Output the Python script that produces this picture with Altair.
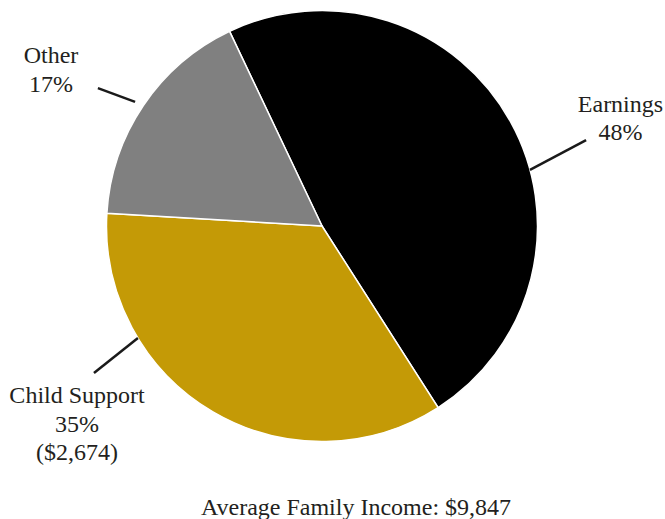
import math
import altair as alt
import pandas as pd

# ---- data ----
categories = ["Earnings", "Child Support", "Other"]
shares = [48, 35, 17]
label_texts = ["Earnings\n48%", "Child Support\n35%\n($2,674)", "Other\n17%"]
caption = "Average Family Income: $9,847"

# ---- style / layout ----
colors = ["#000000", "#C49A06", "#808080"]
W, H = 665, 519
CX, CY, R = 322, 226, 215.5
START_DEG = -25.4
FONT = "Liberation Serif"
TEXT_COLOR = "#231f20"
# label anchor (angle deg clockwise from 12 o'clock, distance from centre) of first baseline
label_polar = [(69.05, 319.6), (234.1, 302.4), (301.0, 316.1)]
# leader lines: (inner angle, inner r), (outer angle, outer r)
leader_polar = [((74.9, 215.4), (72.0, 277.7)),
                ((238.7, 215.4), (237.2, 271.3)),
                ((303.6, 224.4), (301.6, 263.1))]
caption_pos = (356, 515)


def polar(a_deg, r):
    a = math.radians(a_deg)
    return CX + r * math.sin(a), CY - r * math.cos(a)


pie_df = pd.DataFrame({"category": categories, "share": shares, "idx": range(len(categories))})

lab_rows = []
for txt, (a, r) in zip(label_texts, label_polar):
    x, y = polar(a, r)
    lab_rows.append({"label": txt, "lx": x, "ly": y})
lab_df = pd.DataFrame(lab_rows)

line_rows = []
for (a1, r1), (a2, r2) in leader_polar:
    x1, y1 = polar(a1, r1)
    x2, y2 = polar(a2, r2)
    line_rows.append({"x1": x1, "y1": y1, "x2": x2, "y2": y2})
line_df = pd.DataFrame(line_rows)

cap_df = pd.DataFrame({"t": [caption], "cx": [caption_pos[0]], "cy": [caption_pos[1]]})

start = math.radians(START_DEG)
pie = alt.Chart(pie_df).mark_arc(outerRadius=R, stroke="white", strokeWidth=1.5).encode(
    theta=alt.Theta("share:Q", stack=True, scale=alt.Scale(range=[start, start + 2 * math.pi])),
    color=alt.Color("category:N", scale=alt.Scale(domain=categories, range=colors), legend=None),
    order=alt.Order("idx:Q"),
    x=alt.value(CX),
    y=alt.value(CY),
)

leaders = alt.Chart(line_df).mark_rule(strokeWidth=2.5, color="#1a1a1a").encode(
    x=alt.X("x1:Q", scale=None),
    y=alt.Y("y1:Q", scale=None),
    x2="x2:Q",
    y2="y2:Q",
)

labels = alt.Chart(lab_df).mark_text(
    font=FONT, fontSize=24, lineBreak="\n", lineHeight=28.5,
    align="center", baseline="alphabetic", color=TEXT_COLOR,
).encode(
    x=alt.X("lx:Q", scale=None),
    y=alt.Y("ly:Q", scale=None),
    text="label:N",
)

cap = alt.Chart(cap_df).mark_text(
    font=FONT, fontSize=24, align="center", baseline="alphabetic", color=TEXT_COLOR,
).encode(
    x=alt.X("cx:Q", scale=None),
    y=alt.Y("cy:Q", scale=None),
    text="t:N",
)

chart = alt.layer(pie, leaders, labels, cap).properties(
    width=W, height=H, autosize=alt.AutoSizeParams(type="none"), padding=0,
).configure_view(stroke=None)

chart.save("out.html", embed_options={"renderer": "svg", "actions": False})
